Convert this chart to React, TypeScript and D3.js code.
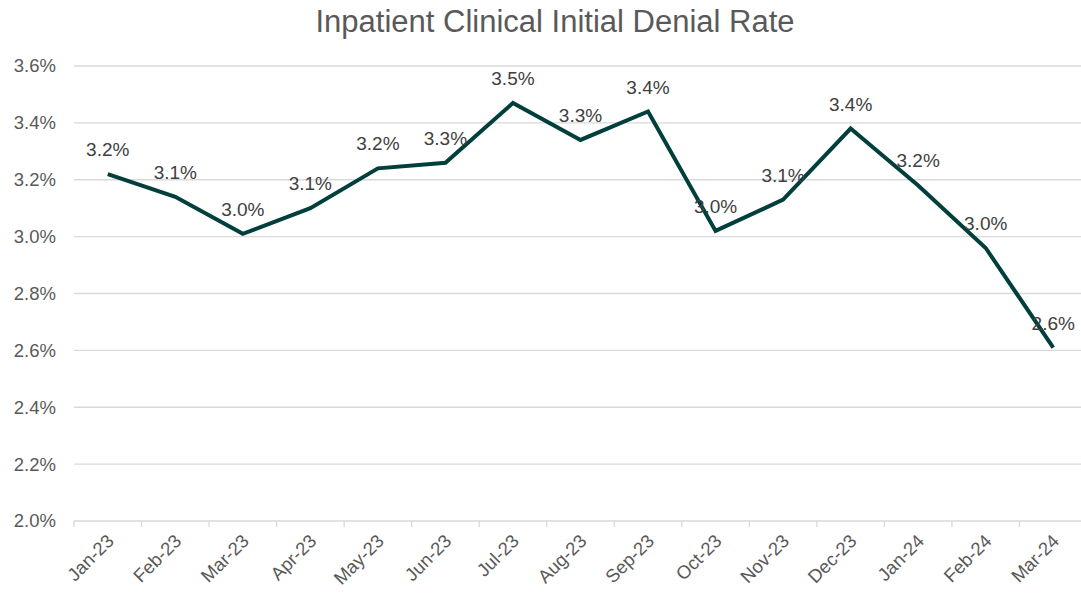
import React from "react";
import * as d3 from "d3";

const categories = ["Jan-23","Feb-23","Mar-23","Apr-23","May-23","Jun-23","Jul-23","Aug-23","Sep-23","Oct-23","Nov-23","Dec-23","Jan-24","Feb-24","Mar-24"];
const rates = [3.22, 3.14, 3.01, 3.10, 3.24, 3.26, 3.47, 3.34, 3.44, 3.02, 3.13, 3.38, 3.18, 2.96, 2.61];
const yTicks = [2.0, 2.2, 2.4, 2.6, 2.8, 3.0, 3.2, 3.4, 3.6];
const title = "Inpatient Clinical Initial Denial Rate";

const W = 1081, H = 593;
const left = 74, right = 1087, top = 66, bottom = 521;
const FONT = "'Liberation Sans', Arial, sans-serif";

export default function App() {
  const x = d3.scaleBand<string>().domain(categories).range([left, right]).padding(0);
  const y = d3.scaleLinear().domain([2.0, 3.6]).range([bottom, top]);
  const cx = (c: string) => (x(c) as number) + x.bandwidth() / 2;
  const line = d3.line<number>().x((_, i) => cx(categories[i])).y((d) => y(d));
  const tickX = categories.map((c) => x(c) as number);

  return (
    <svg width={W} height={H} style={{ position: "absolute", left: 0, top: 0, background: "#fff" }}>
      <rect x={0} y={0} width={W} height={H} fill="#fff" />
      <text x={555} y={32} textAnchor="middle" fontFamily={FONT} fontSize={31} fill="#595959">{title}</text>
      {yTicks.map((t) => (
        <g key={t}>
          <line x1={left} x2={right} y1={y(t)} y2={y(t)} stroke="#d9d9d9" strokeWidth={1.3} />
          <text x={56} y={y(t)} dy="0.35em" textAnchor="end" fontFamily={FONT} fontSize={18.5} fill="#595959">{t.toFixed(1)}%</text>
        </g>
      ))}
      {tickX.map((tx, i) => (
        <line key={i} x1={tx} x2={tx} y1={bottom} y2={bottom + 6} stroke="#d9d9d9" strokeWidth={1.3} />
      ))}
      {categories.map((c) => (
        <text key={c} transform={`translate(${cx(c) - 2},${bottom + 12}) rotate(-45)`} textAnchor="end" dy="0.7em" fontFamily={FONT} fontSize={18.5} fill="#595959">{c}</text>
      ))}
      <path d={line(rates) as string} fill="none" stroke="#003f3b" strokeWidth={4} strokeLinejoin="miter" />
      {rates.map((v, i) => (
        <text key={i} x={cx(categories[i])} y={y(v) - 18} textAnchor="middle" fontFamily={FONT} fontSize={19} fill="#404040">{v.toFixed(1)}%</text>
      ))}
    </svg>
  );
}
